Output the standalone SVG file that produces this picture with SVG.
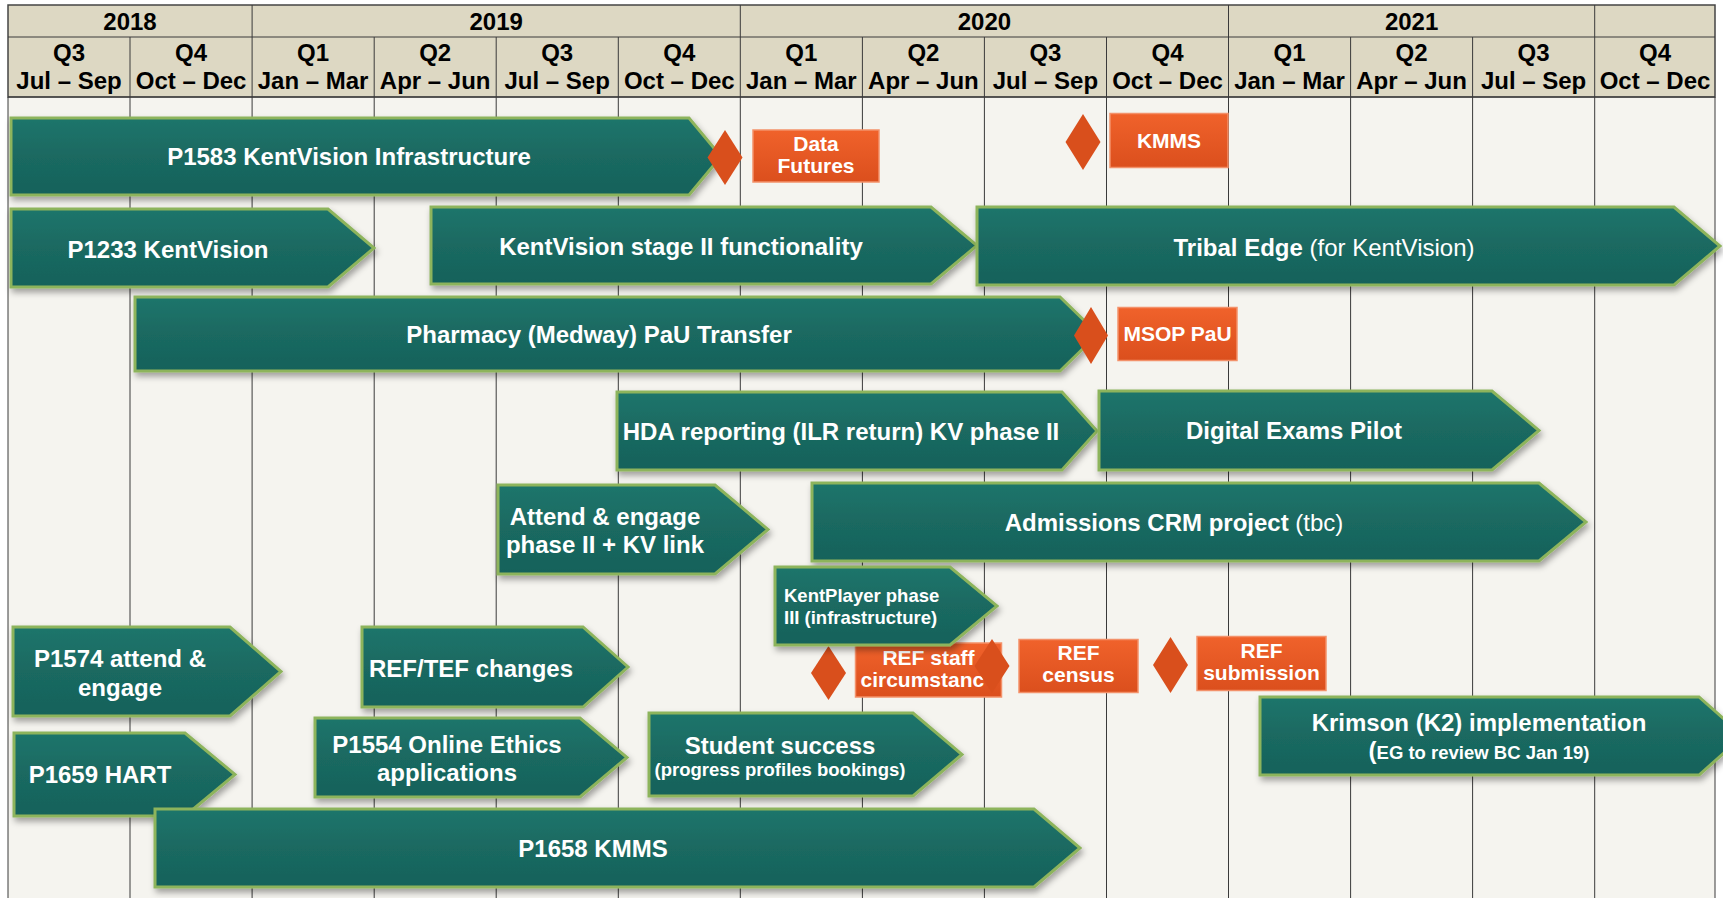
<svg xmlns="http://www.w3.org/2000/svg" width="1723" height="898" viewBox="0 0 1723 898">
<defs>
<linearGradient id="teal" x1="0" y1="0" x2="0" y2="1">
<stop offset="0" stop-color="#1F756B"/><stop offset="0.5" stop-color="#1A6961"/><stop offset="1" stop-color="#16625A"/>
</linearGradient>
<linearGradient id="orng" x1="0" y1="0" x2="0" y2="1">
<stop offset="0" stop-color="#F0622B"/><stop offset="1" stop-color="#DB4F1D"/>
</linearGradient>
<filter id="sh" x="-5%" y="-20%" width="110%" height="150%">
<feDropShadow dx="2" dy="4" stdDeviation="3" flood-color="#000" flood-opacity="0.35"/>
</filter>
<style>
.bar{fill:url(#teal);stroke:#8DB45C;stroke-width:3;filter:url(#sh)}
.box{fill:url(#orng);stroke:#F3916A;stroke-width:1.5}
.dia{fill:#D94F1C}
.t{font-family:"Liberation Sans",Arial,sans-serif;font-weight:bold;font-size:24px;fill:#fff;text-anchor:middle}
.s{font-size:18.5px}
.n{font-weight:normal}
.b{font-family:"Liberation Sans",Arial,sans-serif;font-weight:bold;font-size:21px;fill:#fff;text-anchor:middle}
.h{font-family:"Liberation Sans",Arial,sans-serif;font-weight:bold;font-size:24px;fill:#000;text-anchor:middle}
.g{stroke:#3A3A3A;stroke-width:1;fill:none}
</style>
</defs>
<rect x="0" y="0" width="1723" height="898" fill="#FFFFFF"/>
<rect x="8" y="97" width="1707" height="801" fill="#F5F4EF"/>
<g id="header">
<rect x="8" y="5" width="1707" height="92" fill="#DDD8C3" stroke="#444" stroke-width="1.5"/>
<path class="g" d="M8 37H1715M8 97H1715M252.1 5V37M740.3 5V37M1228.5 5V37M1594.7 5V37"/>
<path class="g" d="M130 37V97M252.1 37V97M374.2 37V97M496.2 37V97M618.3 37V97M740.3 37V97M862.4 37V97M984.4 37V97M1106.5 37V97M1228.5 37V97M1350.6 37V97M1472.6 37V97M1594.7 37V97"/>
<text class="h" x="130" y="30">2018</text>
<text class="h" x="496.2" y="30">2019</text>
<text class="h" x="984.4" y="30">2020</text>
<text class="h" x="1411.6" y="30">2021</text>
<text class="h" x="69" y="61">Q3</text><text class="h" x="69" y="89">Jul – Sep</text>
<text class="h" x="191.1" y="61">Q4</text><text class="h" x="191.1" y="89">Oct – Dec</text>
<text class="h" x="313.1" y="61">Q1</text><text class="h" x="313.1" y="89">Jan – Mar</text>
<text class="h" x="435.2" y="61">Q2</text><text class="h" x="435.2" y="89">Apr – Jun</text>
<text class="h" x="557.2" y="61">Q3</text><text class="h" x="557.2" y="89">Jul – Sep</text>
<text class="h" x="679.3" y="61">Q4</text><text class="h" x="679.3" y="89">Oct – Dec</text>
<text class="h" x="801.3" y="61">Q1</text><text class="h" x="801.3" y="89">Jan – Mar</text>
<text class="h" x="923.4" y="61">Q2</text><text class="h" x="923.4" y="89">Apr – Jun</text>
<text class="h" x="1045.4" y="61">Q3</text><text class="h" x="1045.4" y="89">Jul – Sep</text>
<text class="h" x="1167.5" y="61">Q4</text><text class="h" x="1167.5" y="89">Oct – Dec</text>
<text class="h" x="1289.5" y="61">Q1</text><text class="h" x="1289.5" y="89">Jan – Mar</text>
<text class="h" x="1411.6" y="61">Q2</text><text class="h" x="1411.6" y="89">Apr – Jun</text>
<text class="h" x="1533.6" y="61">Q3</text><text class="h" x="1533.6" y="89">Jul – Sep</text>
<text class="h" x="1655" y="61">Q4</text><text class="h" x="1655" y="89">Oct – Dec</text>
</g>
<g id="gridlines">
<path class="g" d="M8 97V898M130 97V898M252.1 97V898M374.2 97V898M496.2 97V898M618.3 97V898M740.3 97V898M862.4 97V898M984.4 97V898M1106.5 97V898M1228.5 97V898M1350.6 97V898M1472.6 97V898M1594.7 97V898M1715 97V898"/>
</g>
<g id="connectors"></g>
<g id="p1583">
<path class="bar" d="M11 118H689L721 156.5L689 195H11Z"/>
<text class="t" x="349" y="164.5">P1583 KentVision Infrastructure</text>
</g>
<g id="m-datafutures">
<path class="dia" d="M725 130L742.5 157.5L725 185L707.5 157.5Z"/>
</g>
<g id="datafutures">
<rect class="box" x="753" y="130" width="126" height="52"/>
<text class="b" x="816" y="150.5">Data</text>
<text class="b" x="816" y="172.5">Futures</text>
</g>
<g id="m-kmms">
<path class="dia" d="M1083 114L1100.5 142L1083 170L1065.5 142Z"/>
</g>
<g id="kmms">
<rect class="box" x="1110" y="113.5" width="118" height="54"/>
<text class="b" x="1169" y="147.5">KMMS</text>
</g>
<g id="p1233">
<path class="bar" d="M11 209H328L374 248L328 287H11Z"/>
<text class="t" x="168" y="258">P1233 KentVision</text>
</g>
<g id="kv2">
<path class="bar" d="M431 207H931L977 245.5L931 284H431Z"/>
<text class="t" x="681" y="254.5">KentVision stage II functionality</text>
</g>
<g id="tribal">
<path class="bar" d="M977 207H1674L1720 246L1674 285H977Z"/>
<text class="t" x="1324" y="255.5">Tribal Edge<tspan class="n"> (for KentVision)</tspan></text>
</g>
<g id="pharmacy">
<path class="bar" d="M135 297H1060L1098 334L1060 371H135Z"/>
<text class="t" x="599" y="342.5">Pharmacy (Medway) PaU Transfer</text>
</g>
<g id="m-msop">
<path class="dia" d="M1091 307L1108 335.5L1091 364L1074 335.5Z"/>
</g>
<g id="msop">
<rect class="box" x="1118" y="307.5" width="119" height="53"/>
<text class="b" x="1177.5" y="341">MSOP PaU</text>
</g>
<g id="hda">
<path class="bar" d="M617 392H1062L1097 431L1062 470H617Z"/>
<text class="t" x="841" y="439.5">HDA reporting (ILR return) KV phase II</text>
</g>
<g id="digital">
<path class="bar" d="M1099 391H1492L1539 430.5L1492 470H1099Z"/>
<text class="t" x="1294" y="439">Digital Exams Pilot</text>
</g>
<g id="attend2">
<path class="bar" d="M498 485H715L768 529.5L715 574H498Z"/>
<text class="t" x="605" y="525">Attend &amp; engage</text>
<text class="t" x="605" y="552.5">phase II + KV link</text>
</g>
<g id="admissions">
<path class="bar" d="M812 483H1539L1586 522L1539 561H812Z"/>
<text class="t" x="1174" y="530.5">Admissions CRM project<tspan class="n"> (tbc)</tspan></text>
</g>
<g id="refstaff">
<rect class="box" x="855.5" y="643" width="146" height="54"/>
<text class="b" x="928.5" y="664.5">REF staff</text>
<text class="b" x="860.5" y="686.5" style="text-anchor:start">circumstanc</text>
</g>
<g id="m-refstaff">
<path class="dia" d="M828.5 646L846 673L828.5 700L811 673Z"/>
</g>
<g id="kentplayer">
<path class="bar" d="M775 567H950L997 606L950 645H775Z"/>
<text class="t s" x="784" y="602" style="text-anchor:start">KentPlayer phase</text>
<text class="t s" x="784" y="624" style="text-anchor:start">III (infrastructure)</text>
</g>
<g id="m-refcensus">
<path class="dia" d="M992 639L1009.5 666L992 693L974.5 666Z"/>
</g>
<g id="refcensus">
<rect class="box" x="1019" y="639.5" width="119" height="53"/>
<text class="b" x="1078.5" y="660">REF</text>
<text class="b" x="1078.5" y="682">census</text>
</g>
<g id="m-refsub">
<path class="dia" d="M1170.5 637L1188 665L1170.5 693L1153 665Z"/>
</g>
<g id="refsub">
<rect class="box" x="1197" y="636.5" width="129" height="54"/>
<text class="b" x="1261.5" y="658">REF</text>
<text class="b" x="1261.5" y="680">submission</text>
</g>
<g id="p1574">
<path class="bar" d="M13 627H230L281 671.5L230 716H13Z"/>
<text class="t" x="120" y="666.5">P1574 attend &amp;</text>
<text class="t" x="120" y="695.5">engage</text>
</g>
<g id="reftef">
<path class="bar" d="M362 627H583L628 667L583 707H362Z"/>
<text class="t" x="471" y="676.5">REF/TEF changes</text>
</g>
<g id="krimson">
<path class="bar" d="M1260 697H1699L1743 736L1699 775H1260Z"/>
<text class="t" x="1479" y="730.5">Krimson (K2) implementation</text>
<text class="t s" x="1479" y="759"><tspan style="font-size:24px">(</tspan>EG to review BC Jan 19)</text>
</g>
<g id="hart">
<path class="bar" d="M14 733H185L235 774.5L185 816H14Z"/>
<text class="t" x="100" y="783">P1659 HART</text>
</g>
<g id="p1554">
<path class="bar" d="M315 718H580L627 757.5L580 797H315Z"/>
<text class="t" x="447" y="752.5">P1554 Online Ethics</text>
<text class="t" x="447" y="781">applications</text>
</g>
<g id="student">
<path class="bar" d="M649 713H913L962 754.5L913 796H649Z"/>
<text class="t" x="780" y="753.5">Student success</text>
<text class="t s" x="780" y="775.5">(progress profiles bookings)</text>
</g>
<g id="p1658">
<path class="bar" d="M155 809H1034L1080 848L1034 887H155Z"/>
<text class="t" x="593" y="856.5">P1658 KMMS</text>
</g>
</svg>
